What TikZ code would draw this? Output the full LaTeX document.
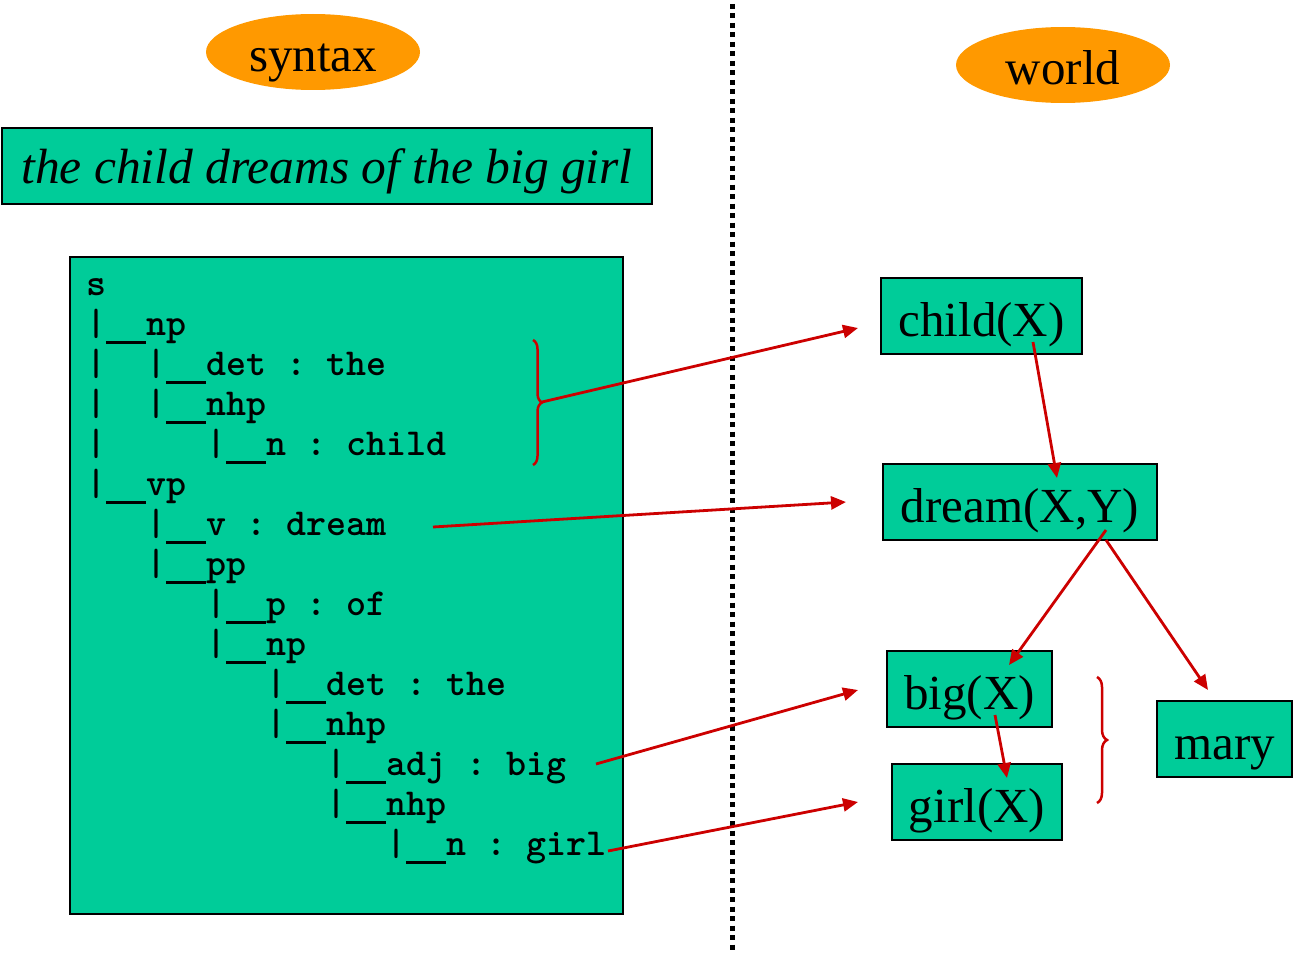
\documentclass[tikz,border=0pt]{standalone}
\usepackage{fontspec}
\setmainfont{Liberation Serif}
\usetikzlibrary{arrows.meta,decorations.pathreplacing,shapes.geometric}
\definecolor{boxgreen}{HTML}{00CC99}
\definecolor{ovalorange}{HTML}{FF9900}
\definecolor{arrowred}{HTML}{CC0000}
\newcommand\treebar{\rule[-9pt]{40pt}{3pt}}
\begin{document}
\begin{tikzpicture}[x=1pt,y=-1pt,
  greenbox/.style={draw=black, line width=1.5pt, fill=boxgreen, inner sep=0pt},
  predbox/.style={greenbox, minimum height=76pt, text height=44pt, text depth=4pt, font=\fontsize{49}{49}\selectfont},
  oval/.style={ellipse, fill=ovalorange, minimum width=214pt, minimum height=76pt, inner sep=0pt, text height=44pt, text depth=4pt, font=\fontsize{49}{49}\selectfont},
  treeline/.style={anchor=base west, inner sep=0pt, font=\fontsize{38.1}{40}\ttfamily\bfseries},
  redarrow/.style={draw=arrowred, line width=2.8pt, -{Triangle[length=15pt,width=13pt]}},
  redbrace/.style={draw=arrowred, line width=2.5pt, decorate, decoration={brace, amplitude=#1}},
  divider/.style={line width=5pt, dash pattern=on 5pt off 4.5pt}
]
\useasboundingbox (0,0) rectangle (1293,955);

% divider
\coordinate (divtop) at (732,4);
\coordinate (divbot) at (732,953);
\draw[divider] (divtop) -- (divbot);

% headings
\node[oval] (syntax) at (313,52) {syntax};
\node[oval] (world) at (1063,65) {world};

% sentence
\node[greenbox, minimum width=650pt, minimum height=76pt, text height=38pt, text depth=4pt,
      font=\fontsize{49.5}{49.5}\selectfont\itshape] (sentence) at (327,166) {the child dreams of the big girl};

% tree box
\node[greenbox, minimum width=553pt, minimum height=657pt] (treebox) at (346.5,585.5) {};

\node[treeline] (L0)  at (86,295) {s};
\node[treeline] (L1)  at (86,335) {|\treebar np};
\node[treeline] (L2)  at (86,375) {|~~|\treebar det~:~the};
\node[treeline] (L3)  at (86,415) {|~~|\treebar nhp};
\node[treeline] (L4)  at (86,455) {|~~~~~|\treebar n~:~child};
\node[treeline] (L5)  at (86,495) {|\treebar vp};
\node[treeline] (L6)  at (146,535) {|\treebar v~:~dream};
\node[treeline] (L7)  at (146,575) {|\treebar pp};
\node[treeline] (L8)  at (206,615) {|\treebar p~:~of};
\node[treeline] (L9)  at (206,655) {|\treebar np};
\node[treeline] (L10) at (266,695) {|\treebar det~:~the};
\node[treeline] (L11) at (266,735) {|\treebar nhp};
\node[treeline] (L12) at (326,775) {|\treebar adj~:~big};
\node[treeline] (L13) at (326,815) {|\treebar nhp};
\node[treeline] (L14) at (386,855) {|\treebar n~:~girl};

% world boxes
\node[predbox, minimum width=201pt] (child) at (981.5,316) {child(X)};
\node[predbox, minimum width=274pt] (dream) at (1020,502) {dream(X,Y)};
\node[predbox, minimum width=165pt] (big)   at (969.5,689) {big(X)};
\node[predbox, minimum width=170pt] (girl)  at (977,802) {girl(X)};
\node[predbox, minimum width=135pt] (mary)  at (1224.5,739) {mary};

% braces
\coordinate (b1top) at (533,340);
\coordinate (b1bot) at (533,465);
\draw[redbrace=9pt] (b1top) -- (b1bot);
\coordinate (b1tip) at (542,402);
\coordinate (b2top) at (1097,677);
\coordinate (b2bot) at (1097,803);
\draw[redbrace=10pt] (b2top) -- (b2bot);

% arrow end points
\coordinate (dreamsrc) at (433,527);
\coordinate (bigsrc)   at (596,764);
\coordinate (girlsrc)  at (608,851);
\coordinate (childin)  at (858,328);
\coordinate (dreamin)  at (846,502);
\coordinate (bigin)    at (858,690);
\coordinate (girlin)   at (858,802);
\coordinate (childX)   at (1033,342);
\coordinate (dreamtop) at (1057,478);
\coordinate (dreamY)   at (1106,530);
\coordinate (dreamYb)  at (1106,540);
\coordinate (bigtop)   at (1009,665);
\coordinate (marytop)  at (1208,690);
\coordinate (bigX)     at (995,715);
\coordinate (girltop)  at (1007,778);

% arrows
\draw[redarrow] (b1tip) -- (childin);
\draw[redarrow] (dreamsrc) -- (dreamin);
\draw[redarrow] (bigsrc) -- (bigin);
\draw[redarrow] (girlsrc) -- (girlin);
\draw[redarrow] (childX) -- (dreamtop);
\draw[redarrow] (dreamY) -- (bigtop);
\draw[redarrow] (dreamYb) -- (marytop);
\draw[redarrow] (bigX) -- (girltop);
\end{tikzpicture}
\end{document}
